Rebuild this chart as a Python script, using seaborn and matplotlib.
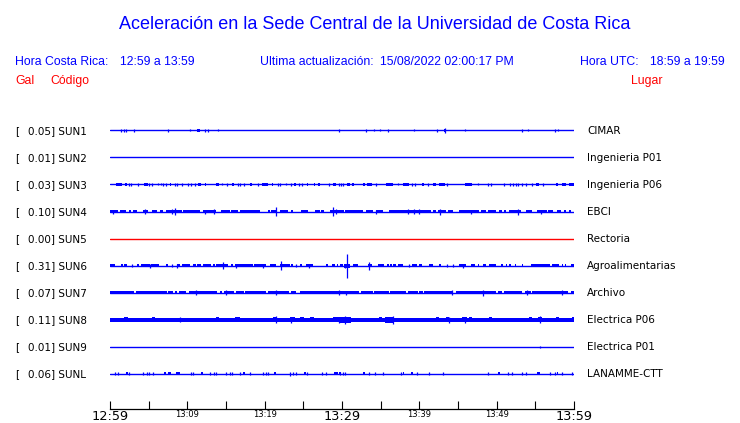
import numpy as np
import pandas as pd
import matplotlib
matplotlib.use("Agg")
import matplotlib.pyplot as plt
import seaborn as sns

# ---------------- data ----------------
codes = ["SUN1", "SUN2", "SUN3", "SUN4", "SUN5", "SUN6", "SUN7", "SUN8", "SUN9", "SUNL"]
gal = [0.05, 0.01, 0.03, 0.10, 0.00, 0.31, 0.07, 0.11, 0.01, 0.06]
places = ["CIMAR", "Ingenieria P01", "Ingenieria P06", "EBCI", "Rectoria",
          "Agroalimentarias", "Archivo", "Electrica P06", "Electrica P01", "LANAMME-CTT"]
trace_colors = ["#0000ff", "#0000ff", "#0000ff", "#0000ff", "#ff0000",
                "#0000ff", "#0000ff", "#0000ff", "#0000ff", "#0000ff"]

tick_minutes = [0, 5, 10, 15, 20, 25, 30, 35, 40, 45, 50, 55, 60]
tick_labels = ["12:59", "", "13:09", "", "13:19", "", "13:29", "", "13:39", "", "13:49", "", "13:59"]
big_tick_labels = ["12:59", "13:29", "13:59"]

title = "Aceleración en la Sede Central de la Universidad de Costa Rica"
local_time = "12:59 a 13:59"
utc_time = "18:59 a 19:59"
last_update = "15/08/2022 02:00:17 PM"

# events per station, minutes after 12:59
# blocks: [start, end, half-amplitude]; spikes: [time, half-amplitude]
SUN1_blocks = [[11.2, 11.65, 1.5], [43.2, 43.45, 1.5]]
SUN1_spikes = [[1.38, 1.5], [1.85, 1.5], [2.10, 1.5], [3.13, 1.5], [7.45, 1.5], [10.36, 1.0],
               [12.30, 1.5], [12.68, 1.5], [13.97, 1.0], [29.59, 1.5], [33.07, 1.5], [34.10, 1.0],
               [34.88, 1.0], [35.96, 1.5], [39.26, 1.0], [42.23, 1.5], [43.31, 2.5], [45.85, 1.0],
               [53.33, 1.5], [54.10, 1.0], [57.59, 1.5], [57.97, 1.0]]

SUN2_blocks = []
SUN2_spikes = []

SUN3_blocks = [[0.77, 1.59, 1.5], [1.98, 2.15, 1.5], [4.43, 4.86, 1.5], [7.79, 7.92, 1.5],
               [11.44, 11.83, 1.5], [12.26, 12.39, 1.5], [13.68, 14.11, 1.5], [15.83, 16.0, 1.5],
               [18.15, 18.32, 1.5], [19.70, 20.43, 1.5], [20.95, 21.08, 1.5], [23.83, 24.09, 1.5],
               [25.46, 25.63, 1.5], [26.32, 26.49, 1.5], [26.88, 27.18, 1.5], [28.82, 29.25, 1.5],
               [30.62, 31.05, 1.5], [31.23, 31.57, 1.5], [32.69, 33.03, 1.5], [33.29, 33.89, 1.5],
               [35.70, 36.56, 1.5], [37.85, 38.71, 1.5], [40.34, 40.60, 1.5], [41.81, 42.15, 1.5],
               [42.49, 43.27, 1.5], [45.94, 46.80, 1.5], [55.05, 55.48, 1.5], [57.63, 57.89, 1.5],
               [58.41, 58.92, 1.5], [59.35, 60.0, 1.5]]
SUN3_spikes = [[2.49, 1.5], [2.71, 1.5], [3.66, 1.5], [5.08, 1.5], [5.46, 1.5], [6.19, 1.0],
               [6.58, 1.0], [6.88, 1.5], [7.27, 1.5], [8.43, 1.5], [8.69, 1.5], [9.25, 1.5],
               [10.11, 1.5], [10.45, 1.5], [11.05, 1.5], [14.54, 1.0], [15.14, 1.5], [16.56, 1.5],
               [16.77, 1.5], [17.29, 1.5], [19.14, 1.5], [21.72, 1.5], [21.94, 1.5], [22.71, 1.0],
               [23.35, 1.5], [24.39, 1.5], [24.82, 1.5], [28.30, 1.5], [29.59, 1.5], [29.89, 1.5],
               [30.19, 1.5], [34.41, 1.5], [37.25, 1.0], [39.05, 1.5], [39.40, 1.5], [41.12, 1.5],
               [43.53, 1.5], [47.57, 1.0], [48.86, 1.5], [49.29, 1.5], [50.92, 1.5], [51.78, 1.5],
               [52.13, 1.5], [52.47, 1.5], [52.82, 1.5], [53.33, 1.5], [53.85, 1.5], [54.54, 1.5],
               [56.0, 1.5]]

SUN4_blocks = [[0.0, 1.08, 1.5], [1.29, 2.06, 1.5], [2.41, 2.67, 1.5], [2.92, 3.53, 1.5],
               [4.22, 4.95, 1.5], [5.38, 6.02, 1.5], [6.45, 6.88, 1.5], [7.23, 9.25, 1.5],
               [9.46, 11.61, 1.5], [12.04, 13.76, 1.5], [14.41, 15.48, 1.5], [15.70, 16.56, 1.5],
               [16.77, 19.35, 1.5], [20.43, 20.73, 1.5], [20.86, 21.42, 1.5], [21.94, 23.01, 1.5],
               [23.44, 23.66, 1.5], [24.73, 25.59, 1.5], [26.45, 27.10, 1.5], [27.31, 27.61, 1.5],
               [28.39, 30.32, 1.5], [30.45, 32.69, 1.5], [33.12, 33.98, 1.5], [34.41, 35.27, 1.5],
               [36.04, 41.51, 1.5], [41.72, 42.15, 1.5], [42.37, 43.44, 1.5], [43.70, 44.30, 1.5],
               [45.08, 47.74, 1.5], [47.96, 48.60, 1.5], [48.82, 49.89, 1.5], [50.32, 50.75, 1.5],
               [51.0, 51.18, 1.5], [51.61, 53.12, 1.5], [53.85, 54.62, 1.5], [55.27, 56.56, 1.5],
               [56.69, 57.29, 1.5], [57.85, 58.28, 1.5], [58.71, 58.92, 1.5], [59.35, 59.57, 1.5]]
SUN4_spikes = [[0.43, 2.0], [4.56, 2.5], [8.0, 2.5], [8.43, 3.5], [12.30, 2.0], [13.46, 2.5],
               [21.51, 4.5], [28.82, 4.5], [29.16, 2.5], [34.41, 2.0], [38.49, 2.5], [39.27, 2.5],
               [40.0, 2.5], [42.71, 3.0], [46.67, 2.0], [52.77, 3.0], [55.74, 2.0]]

SUN5_blocks = []
SUN5_spikes = []

SUN6_blocks = [[0.0, 0.65, 1.5], [1.38, 1.63, 1.5], [1.85, 2.15, 1.5], [3.53, 3.70, 1.5],
               [4.04, 5.16, 1.5], [5.25, 6.37, 1.5], [7.23, 7.53, 1.5], [8.60, 9.03, 1.5],
               [9.25, 10.32, 1.5], [10.75, 11.18, 1.5], [11.27, 11.83, 1.5], [12.04, 13.12, 1.5],
               [13.33, 13.55, 1.5], [13.76, 15.27, 1.5], [15.61, 15.91, 1.5], [16.13, 18.49, 1.5],
               [18.58, 20.22, 1.5], [20.65, 21.51, 1.5], [21.94, 23.23, 1.5], [23.44, 23.66, 1.5],
               [24.60, 24.86, 1.5], [25.29, 26.24, 1.5], [27.96, 28.22, 1.5], [28.65, 29.08, 1.5],
               [29.33, 29.51, 1.5], [29.76, 30.19, 1.5], [30.28, 30.97, 2.0], [31.40, 32.04, 1.5],
               [33.33, 33.89, 1.5], [34.62, 35.48, 1.5], [35.78, 36.04, 1.5], [36.21, 36.47, 1.5],
               [36.65, 36.99, 1.5], [37.25, 37.85, 1.5], [39.05, 39.66, 1.5], [40.0, 40.34, 1.5],
               [41.20, 41.81, 1.5], [42.58, 42.84, 1.5], [45.08, 46.02, 1.5], [46.67, 47.23, 1.5],
               [47.53, 47.74, 1.5], [48.26, 48.60, 1.5], [48.95, 49.89, 1.5], [50.54, 50.84, 1.5],
               [51.18, 51.40, 1.5], [51.61, 51.83, 1.5], [52.39, 52.56, 1.5], [53.25, 53.42, 1.5],
               [54.41, 56.86, 1.5], [57.20, 58.06, 1.5], [58.41, 58.58, 1.5], [58.84, 59.01, 1.5],
               [59.57, 60.0, 1.5]]
SUN6_spikes = [[2.84, 1.5], [5.16, 2.0], [8.0, 1.5], [8.69, 2.0], [14.62, 3.5], [16.26, 2.0],
               [19.78, 2.0], [22.11, 4.5], [24.0, 1.5], [25.72, 2.0], [30.62, 12.0], [30.40, 2.0],
               [33.46, 4.0], [38.62, 1.5], [43.53, 1.5], [44.39, 1.5], [45.68, 2.0]]

SUN7_blocks = [[0.0, 3.14, 1.5], [3.35, 7.31, 1.5], [7.53, 8.17, 1.5], [8.39, 8.69, 1.5],
               [8.90, 9.81, 1.5], [10.24, 13.85, 1.5], [14.19, 14.45, 1.5], [14.71, 16.0, 1.5],
               [16.34, 17.29, 1.5], [17.51, 20.13, 1.5], [20.39, 23.14, 1.5], [23.44, 24.0, 1.5],
               [24.52, 32.26, 1.5], [32.47, 33.98, 1.5], [34.19, 36.04, 1.5], [36.26, 38.28, 1.5],
               [38.49, 39.78, 1.5], [40.0, 40.43, 1.5], [40.65, 44.3, 1.5], [44.73, 49.89, 1.5],
               [50.11, 50.75, 1.5], [50.97, 53.33, 1.5], [53.66, 54.41, 1.5], [54.62, 59.23, 1.5],
               [59.57, 60.0, 1.5]]
SUN7_spikes = [[11.18, 2.5], [14.97, 2.5], [21.51, 2.5], [29.59, 2.5], [30.54, 2.0], [44.21, 2.5],
               [48.17, 3.0], [53.96, 2.5], [58.41, 2.5]]

SUN8_blocks = [[0.0, 60.0, 2.0], [1.85, 2.37, 2.5], [5.38, 5.81, 2.5], [13.76, 14.11, 2.5],
               [16.13, 16.86, 2.5], [21.08, 21.51, 2.5], [23.23, 23.87, 2.5], [24.52, 25.03, 2.5],
               [25.89, 26.32, 2.5], [28.82, 29.68, 2.5], [29.68, 31.18, 3.0], [34.84, 35.18, 2.5],
               [35.61, 36.77, 3.0], [42.15, 42.58, 2.5], [43.44, 43.87, 2.5], [45.51, 46.11, 2.5],
               [46.45, 46.80, 2.5], [49.03, 49.38, 2.5], [54.19, 54.54, 2.5], [55.40, 55.91, 2.5],
               [57.63, 58.06, 2.5], [59.78, 60.0, 2.5]]
SUN8_spikes = [[9.03, 2.5], [21.42, 3.5], [23.44, 3.0], [29.55, 3.0], [30.45, 4.0], [36.56, 4.0],
               [43.78, 3.0], [45.94, 3.0], [55.61, 3.5]]

SUN9_blocks = []
SUN9_spikes = [[55.65, 1.0]]

SUNL_blocks = [[2.06, 2.37, 1.5], [7.01, 7.23, 1.5], [7.53, 7.83, 1.5], [8.51, 9.03, 1.5],
               [11.83, 12.04, 1.5], [17.20, 17.46, 1.5], [21.16, 21.42, 1.5], [25.03, 25.29, 1.5],
               [29.03, 29.46, 1.5], [29.63, 29.83, 1.5], [32.69, 33.03, 1.5], [37.85, 38.02, 1.5],
               [38.95, 39.21, 1.5], [50.19, 50.45, 1.5], [55.27, 55.61, 1.5], [57.80, 57.97, 1.5]]
SUNL_spikes = [[0.65, 1.5], [1.08, 1.5], [2.49, 1.5], [4.22, 1.5], [4.73, 1.5], [5.08, 1.5],
               [5.51, 1.5], [10.41, 1.5], [10.67, 1.5], [12.99, 1.5], [13.51, 1.5], [13.76, 1.5],
               [14.97, 1.5], [15.48, 1.5], [15.83, 1.5], [16.77, 1.5], [18.15, 1.5], [19.78, 1.5],
               [20.22, 1.5], [20.47, 1.5], [23.31, 2.0], [23.66, 1.5], [24.0, 1.5], [25.46, 1.5],
               [27.44, 1.5], [27.87, 1.5], [29.76, 1.5], [30.11, 1.5], [30.37, 1.5], [33.46, 1.5],
               [34.32, 1.5], [35.35, 1.5], [37.68, 1.5], [39.66, 1.5], [41.20, 1.5], [43.10, 1.5],
               [48.82, 1.5], [51.53, 1.5], [52.04, 1.5], [53.25, 1.5], [53.85, 1.5], [56.86, 1.5],
               [57.55, 1.5], [58.41, 1.5], [59.70, 1.5]]

blocks = [SUN1_blocks, SUN2_blocks, SUN3_blocks, SUN4_blocks, SUN5_blocks,
          SUN6_blocks, SUN7_blocks, SUN8_blocks, SUN9_blocks, SUNL_blocks]
spikes = [SUN1_spikes, SUN2_spikes, SUN3_spikes, SUN4_spikes, SUN5_spikes,
          SUN6_spikes, SUN7_spikes, SUN8_spikes, SUN9_spikes, SUNL_spikes]

# ---------------- layout ----------------
W, H = 740, 423
sns.set_style("white")
plt.rcParams["font.family"] = ["DejaVu Sans"]

fig = plt.figure(figsize=(W / 100, H / 100), dpi=100)
fig.patch.set_facecolor("white")

ax_left, ax_right, ax_bottom, ax_top = 110, 574, 409, 115
ax = fig.add_axes([ax_left / W, (H - ax_bottom) / H,
                   (ax_right - ax_left) / W, (ax_bottom - ax_top) / H])
ax.set_facecolor("none")

row0, row_step = 130, 27
offsets = [row0 + row_step * i + 0.5 for i in range(len(codes))]

# baselines through seaborn
base = pd.DataFrame({
    "code": np.repeat(codes, 2),
    "t": [0, 60] * len(codes),
    "y": np.repeat(offsets, 2),
})
sns.lineplot(data=base, x="t", y="y", hue="code", palette=dict(zip(codes, trace_colors)),
             estimator=None, legend=False, linewidth=1.0, ax=ax)

for off, col, blk, spk in zip(offsets, trace_colors, blocks, spikes):
    if blk:
        b = np.array(blk, dtype=float)
        ax.bar(x=(b[:, 0] + b[:, 1]) / 2, width=np.maximum(b[:, 1] - b[:, 0], 0.14),
               bottom=off - b[:, 2], height=2 * b[:, 2],
               color=col, linewidth=0, align="center")
    if spk:
        s = np.array(spk, dtype=float)
        ax.vlines(s[:, 0], off - s[:, 1], off + s[:, 1], color=col, linewidth=0.9)

ax.set_xlim(0, 60)
ax.set_ylim(ax_bottom, ax_top)
ax.set_xlabel("")
ax.set_ylabel("")
for side in ["left", "right", "top"]:
    ax.spines[side].set_visible(False)
ax.spines["bottom"].set_color("black")
ax.spines["bottom"].set_linewidth(0.9)
ax.set_yticks([])
ax.set_xticks(tick_minutes)
ax.set_xticklabels(tick_labels)
ax.tick_params(axis="x", bottom=True, direction="in", length=5.8, width=0.8,
               color="black", pad=0.8)
for lab in ax.get_xticklabels():
    if lab.get_text() in big_tick_labels:
        lab.set_fontsize(9.3)
    else:
        lab.set_fontsize(6)
    lab.set_color("black")


def px(x, y):
    return x / W, 1 - y / H


blue, red = "#0000ff", "#ff0000"
hfont = "Liberation Sans"

fig.text(*px(375, 29.3), title, color=blue, fontsize=13, family=hfont,
         ha="center", va="baseline")
fig.text(*px(15, 65), "Hora Costa Rica:", color=blue, fontsize=8.8, family=hfont, va="baseline")
fig.text(*px(120.5, 65), local_time, color=blue, fontsize=8.8, family=hfont, va="baseline")
fig.text(*px(260, 65), "Ultima actualización:", color=blue, fontsize=8.8, family=hfont, va="baseline")
fig.text(*px(380, 65), last_update, color=blue, fontsize=8.8, family=hfont, va="baseline")
fig.text(*px(580.5, 65), "Hora UTC:", color=blue, fontsize=8.8, family=hfont, va="baseline")
fig.text(*px(650.5, 65), utc_time, color=blue, fontsize=8.8, family=hfont, va="baseline")

fig.text(*px(15, 84.3), "Gal", color=red, fontsize=8.8, family=hfont, va="baseline")
fig.text(*px(50.3, 84.3), "Código", color=red, fontsize=8.8, family=hfont, va="baseline")
fig.text(*px(630.5, 84.3), "Lugar", color=red, fontsize=8.8, family=hfont, va="baseline")

for off, g, code, place in zip(offsets, gal, codes, places):
    fig.text(*px(15, off + 3.5), "[", color="black", fontsize=7.5, va="baseline")
    fig.text(*px(27.5, off + 3.5), f"{g:.2f}] {code}", color="black", fontsize=7.5, va="baseline")
    fig.text(*px(587, off + 3.5), place, color="black", fontsize=7.5, va="baseline")

fig.savefig("out.png", dpi=100, facecolor="white")
